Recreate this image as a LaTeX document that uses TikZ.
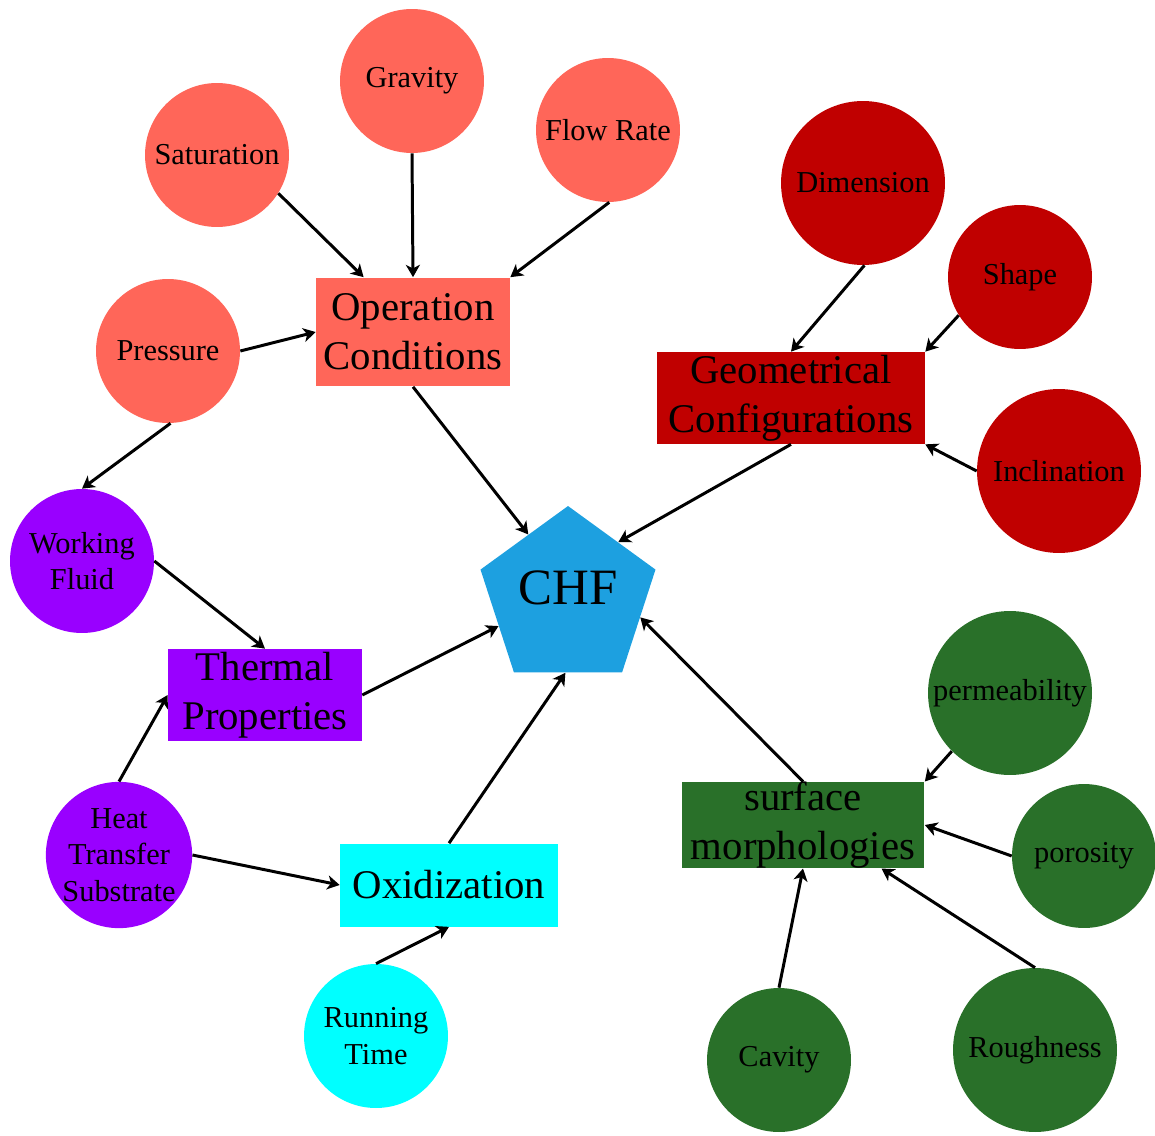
\documentclass[tikz,border=0pt]{standalone}
\usepackage{fontspec}
\setmainfont{Liberation Serif}
\usepackage{tikz}
\usetikzlibrary{arrows.meta,shapes.geometric}

\definecolor{opred}{RGB}{255,102,89}
\definecolor{geored}{RGB}{192,0,0}
\definecolor{thpurple}{RGB}{153,0,255}
\definecolor{oxcyan}{RGB}{0,255,255}
\definecolor{sfgreen}{RGB}{41,112,41}
\definecolor{chfblue}{RGB}{29,160,224}

\begin{document}
\begin{tikzpicture}[
  x=0.02cm, y=-0.02cm,
  >={Stealth[length=7pt, width=8pt, inset=2pt]},
  fac/.style={circle, inner sep=0pt, minimum size=2.88cm, align=center,
              font=\fontsize{17.3}{20.8}\selectfont},
  facL/.style={fac, minimum size=3.28cm},
  grp/.style={rectangle, inner sep=0pt, align=center,
              font=\fontsize{23.2}{27.8}\selectfont},
  lnk/.style={->, line width=1.7pt}
]
\useasboundingbox (0,0) rectangle (1155,1135);

%% ---- centre ----
\node[regular polygon, regular polygon sides=5, fill=chfblue, inner sep=0pt,
      minimum size=3.68cm,
      label={[font=\fontsize{29}{34}\selectfont, yshift=0.2cm]center:CHF}]
  (chf) at (568, 598) {};

%% ---- group boxes ----
\node[grp, fill=opred, minimum width=3.88cm, minimum height=2.18cm]
  (opc) at (413, 332) {Operation\\Conditions};
\node[grp, fill=geored, minimum width=5.36cm, minimum height=1.84cm]
  (geo) at (791, 398) {Geometrical\\Configurations};
\node[grp, fill=thpurple, minimum width=3.88cm, minimum height=1.84cm]
  (thp) at (265, 695) {Thermal\\Properties};
\node[grp, fill=oxcyan, minimum width=4.36cm, minimum height=1.66cm]
  (oxi) at (449, 885) {Oxidization};
\node[grp, fill=sfgreen, minimum width=4.86cm, minimum height=1.66cm]
  (sfm) at (803, 825) {surface\\morphologies};

%% ---- factors ----
\node[fac, fill=opred] (grav) at (412, 81) {Gravity};
\node[fac, fill=opred] (sat) at (217, 155) {Saturation};
\node[fac, fill=opred] (flow) at (608, 130) {Flow Rate};
\node[fac, fill=opred] (pres) at (168, 351) {Pressure};

\node[facL, fill=geored] (dim) at (863, 183) {Dimension};
\node[fac, fill=geored] (shp) at (1020, 277) {Shape};
\node[facL, fill=geored] (incl) at (1059, 471) {Inclination};

\node[fac, fill=thpurple] (wfl) at (82, 561) {Working\\Fluid};
\node[fac, fill=thpurple] (hts) at (119, 855) {Heat\\Transfer\\Substrate};

\node[fac, fill=oxcyan] (rtm) at (376, 1036) {Running\\Time};

\node[facL, fill=sfgreen] (perm) at (1010, 693) {permeability};
\node[fac, fill=sfgreen] (poro) at (1084, 856) {porosity};
\node[fac, fill=sfgreen] (cav) at (779, 1060) {Cavity};
\node[facL, fill=sfgreen] (rough) at (1035, 1050) {Roughness};

%% ---- operation conditions ----
\draw[lnk] (sat.-32) -- (opc.132);
\draw[lnk] (grav.south) -- (opc.north);
\draw[lnk] (flow.-89) -- (opc.north east);
\draw[lnk] (pres.east) -- (opc.west);
\draw[lnk] (pres.-88) -- (wfl.north);
\draw[lnk] (opc.south) -- (chf.122);

%% ---- geometrical configurations ----
\draw[lnk] (dim.-89) -- (geo.north);
\draw[lnk] (shp.212) -- (geo.north east);
\draw[lnk] (incl.west) -- (geo.south east);
\draw[lnk] (geo.south) -- (chf.48);

%% ---- thermal properties and oxidization ----
\draw[lnk] (wfl.east) -- (thp.north);
\draw[lnk] (thp.east) -- (chf.202);
\draw[lnk] (hts.north) -- (thp.west);
\draw[lnk] (hts.east) -- (oxi.west);
\draw[lnk] (oxi.north) -- (chf.268);
\draw[lnk] (rtm.north) -- (oxi.south);

%% ---- surface morphologies ----
\draw[lnk] (sfm.north) -- (chf.-15);
\draw[lnk] (perm.225) -- (sfm.north east);
\draw[lnk] (poro.west) -- (sfm.east);
\draw[lnk] (cav.north) -- (sfm.south);
\draw[lnk] (rough.north) -- (sfm.-29);

\end{tikzpicture}
\end{document}
